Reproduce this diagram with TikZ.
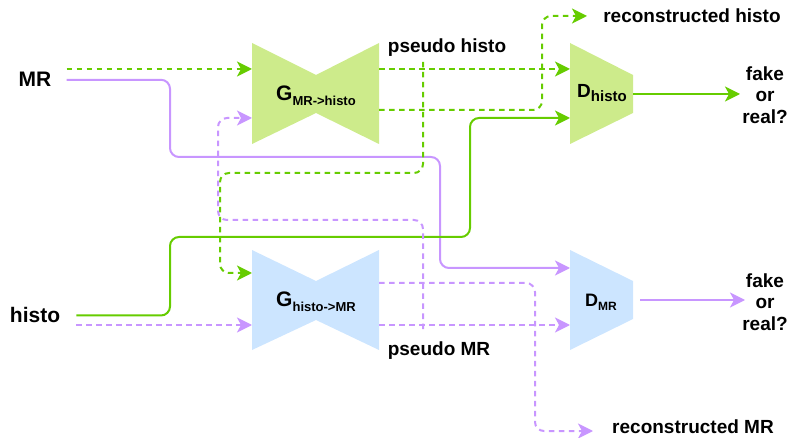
\documentclass[tikz,border=0pt]{standalone}
\usepackage{fontspec}
\setmainfont{Liberation Sans}
\usetikzlibrary{arrows.meta}
\definecolor{gline}{HTML}{66CC00}
\definecolor{pline}{HTML}{C896FF}
\definecolor{gfill}{HTML}{CDEB8B}
\definecolor{bfill}{HTML}{CCE5FF}
\newcommand{\gsub}[2]{\fontsize{21}{21}\selectfont #1\raisebox{-5pt}{\fontsize{13}{13}\selectfont #2}}

\begin{document}
\begin{tikzpicture}[x=1pt, y=-1pt,
    txt/.style={font=\bfseries\fontsize{19}{21.5}\selectfont, inner sep=0pt, anchor=base},
    arr/.style={-{Stealth[length=15pt,width=15pt,inset=4pt]}},
    gpath/.style={draw=gline, line width=2pt, rounded corners=9pt, arr},
    ppath/.style={draw=pline, line width=2pt, rounded corners=9pt, arr},
    dsh/.style={dash pattern=on 5.5pt off 4.5pt}]
    \useasboundingbox (0,0) rectangle (787,438);

    % generators and discriminators
    \fill[gfill] (252,43) -- (316,75) -- (379,43) -- (379,144) -- (316,113) -- (252,144) -- cycle;
    \fill[bfill] (252,250) -- (316,281) -- (379,250) -- (379,350) -- (316,320) -- (252,350) -- cycle;
    \fill[gfill] (570,43) -- (633,75) -- (633,113) -- (570,144) -- cycle;
    \fill[bfill] (570,250) -- (633,281) -- (633,319) -- (570,350) -- cycle;

    \node[txt] (g1) at (316,101) {\gsub{G}{MR->histo}};
    \node[txt] (g2) at (316,307) {\gsub{G}{histo->MR}};
    \node[txt] (dh) at (602,98) {D\raisebox{-4pt}{\fontsize{15}{15}\selectfont histo}};
    \node[txt] (dm) at (601,306) {\fontsize{18}{18}\selectfont D\raisebox{-4pt}{\fontsize{12}{12}\selectfont MR}};

    % ports
    \coordinate (g1a) at (252,69);  \coordinate (g1b) at (252,118);
    \coordinate (g1c) at (379,69);  \coordinate (g1d) at (379,110);
    \coordinate (g2a) at (252,273); \coordinate (g2b) at (252,325);
    \coordinate (g2c) at (379,283); \coordinate (g2d) at (379,325);
    \coordinate (dha) at (570,69);  \coordinate (dhb) at (570,118);
    \coordinate (dhc) at (633,94);
    \coordinate (dma) at (570,268); \coordinate (dmb) at (570,325);
    \coordinate (dmc) at (640,300);

    % labels
    \node[txt, font=\bfseries\fontsize{21}{21}\selectfont] (mr) at (35,87) {MR};
    \node[txt, font=\bfseries\fontsize{21}{21}\selectfont] (ho) at (35,323) {histo};
    \node[txt] (ph) at (447,53) {pseudo histo};
    \node[txt] (pm) at (439,355) {pseudo MR};
    \node[txt] (rh) at (692,23) {reconstructed histo};
    \node[txt] (rm) at (693,433) {reconstructed MR};
    \node[txt, anchor=center, align=center] (fr1) at (765,95) {fake\\or\\real?};
    \node[txt, anchor=center, align=center] (fr2) at (765,302) {fake\\or\\real?};
    \coordinate (ph1) at (423,62);
    \coordinate (pm1) at (423,329);

    % MR side
    \draw[gpath, dsh] ([xshift=15pt]mr.east |- g1a) -- (g1a);
    \draw[ppath] ([xshift=15pt]mr.east) -| (170,157) -- (440,157) |- (dma);
    \draw[gpath, dsh] (g1c) -- (dha);
    \draw[gpath, dsh] (g1d) -| (542,16) -- ++(45,0);
    \draw[gpath, dsh] (ph1) |- (220,173) |- (g2a);
    \draw[gpath] (dhc) -- ++(107,0);

    % histo side
    \draw[gpath] ([xshift=16pt]ho.east) -| (170,237) -- (470,237) |- (dhb);
    \draw[ppath, dsh] ([xshift=16pt]ho.east |- g2b) -- (g2b);
    \draw[ppath, dsh] (g2d) -- (dmb);
    \draw[ppath, dsh] (g2c) -| (535,431) -- ++(58,0);
    \draw[ppath, dsh] (pm1) |- (218,220) |- (g1b);
    \draw[ppath] (dmc) -- ++(105,0);
\end{tikzpicture}
\end{document}
